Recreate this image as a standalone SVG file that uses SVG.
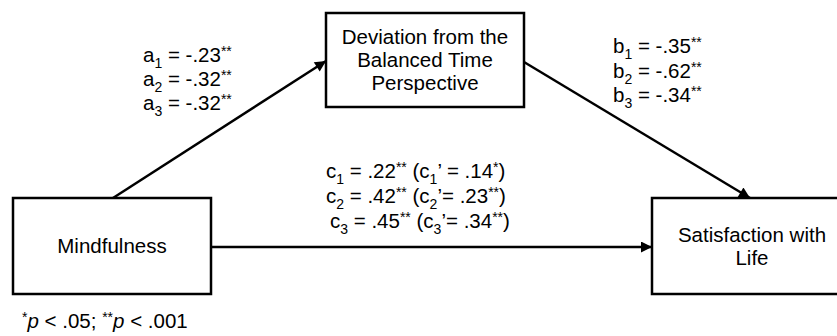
<svg xmlns="http://www.w3.org/2000/svg" width="837" height="336" viewBox="0 0 837 336">
<defs>
<style>
text{font-family:"Liberation Sans",Arial,sans-serif;font-size:20.5px;fill:#000}
.box{fill:#fff;stroke:#000;stroke-width:2.5}
.edge{stroke:#000;stroke-width:2.5;fill:none;marker-end:url(#ah)}
.sub{font-size:14px}
.sup{font-size:14px}
</style>
<marker id="ah" viewBox="0 0 10 10" refX="10" refY="5" markerWidth="6" markerHeight="4.4" markerUnits="strokeWidth" orient="auto">
<path d="M0,0 L10,5 L0,10 z" fill="#000"/>
</marker>
</defs>
<rect width="837" height="336" fill="#fff"/>
<g id="connectors">
<line class="edge" x1="113" y1="198" x2="326" y2="61"/>
<line class="edge" x1="524" y1="62" x2="750" y2="198"/>
<line class="edge" x1="211" y1="247" x2="652" y2="247"/>
</g>
<g id="mindfulness">
<rect class="box" x="13" y="198" width="198" height="96"/>
<text x="112" y="253" text-anchor="middle">Mindfulness</text>
</g>
<g id="deviation">
<rect class="box" x="326" y="13" width="198" height="94"/>
<text x="425" y="44" text-anchor="middle">Deviation from the</text>
<text x="425" y="67" text-anchor="middle">Balanced Time</text>
<text x="425" y="90" text-anchor="middle">Perspective</text>
</g>
<g id="satisfaction">
<rect class="box" x="652" y="198" width="200" height="96"/>
<text x="752" y="242" text-anchor="middle">Satisfaction with</text>
<text x="752" y="265" text-anchor="middle">Life</text>
</g>
<g id="labels">
<text x="143" y="62">a<tspan class="sub" dy="6">1</tspan><tspan dy="-6"> = -.23</tspan><tspan class="sup" dy="-6">**</tspan></text>
<text x="143" y="86">a<tspan class="sub" dy="6">2</tspan><tspan dy="-6"> = -.32</tspan><tspan class="sup" dy="-6">**</tspan></text>
<text x="143" y="110">a<tspan class="sub" dy="6">3</tspan><tspan dy="-6"> = -.32</tspan><tspan class="sup" dy="-6">**</tspan></text>
<text x="613" y="53">b<tspan class="sub" dy="6">1</tspan><tspan dy="-6"> = -.35</tspan><tspan class="sup" dy="-6">**</tspan></text>
<text x="613" y="78">b<tspan class="sub" dy="6">2</tspan><tspan dy="-6"> = -.62</tspan><tspan class="sup" dy="-6">**</tspan></text>
<text x="613" y="102">b<tspan class="sub" dy="6">3</tspan><tspan dy="-6"> = -.34</tspan><tspan class="sup" dy="-6">**</tspan></text>
<text x="326" y="178">c<tspan class="sub" dy="6">1</tspan><tspan dy="-6">  = .22</tspan><tspan class="sup" dy="-6">**</tspan><tspan dy="6"> (c</tspan><tspan class="sub" dy="6">1</tspan><tspan dy="-6">’ = .14</tspan><tspan class="sup" dy="-6">*</tspan><tspan dy="6">)</tspan></text>
<text x="326" y="203">c<tspan class="sub" dy="6">2</tspan><tspan dy="-6">  = .42</tspan><tspan class="sup" dy="-6">**</tspan><tspan dy="6"> (c</tspan><tspan class="sub" dy="6">2</tspan><tspan dy="-6">’= .23</tspan><tspan class="sup" dy="-6">**</tspan><tspan dy="6">)</tspan></text>
<text x="330" y="228">c<tspan class="sub" dy="6">3</tspan><tspan dy="-6"> = .45</tspan><tspan class="sup" dy="-6">**</tspan><tspan dy="6"> (c</tspan><tspan class="sub" dy="6">3</tspan><tspan dy="-6">’= .34</tspan><tspan class="sup" dy="-6">**</tspan><tspan dy="6">)</tspan></text>
<text x="22" y="328"><tspan class="sup" dy="-6">*</tspan><tspan dy="6" font-style="italic">p</tspan> &lt; .05; <tspan class="sup" dy="-6">**</tspan><tspan dy="6" font-style="italic">p</tspan> &lt; .001</text>
</g>
</svg>
